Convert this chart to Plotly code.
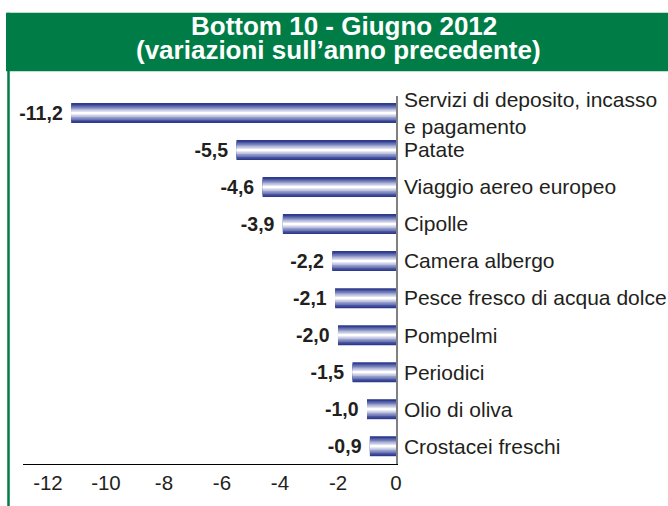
import plotly.graph_objects as go

categories = [
    "Servizi di deposito, incasso<br>e pagamento",
    "Patate",
    "Viaggio aereo europeo",
    "Cipolle",
    "Camera albergo",
    "Pesce fresco di acqua dolce",
    "Pompelmi",
    "Periodici",
    "Olio di oliva",
    "Crostacei freschi",
]
values = [-11.2, -5.5, -4.6, -3.9, -2.2, -2.1, -2.0, -1.5, -1.0, -0.9]
tick_vals = [-12, -10, -8, -6, -4, -2, 0]
tick_text = ["-12", "-10", "-8", "-6", "-4", "-2", "0"]

labels = [f"{v:.1f}".replace(".", ",") + "\u00a0" for v in values]

FONT = "Liberation Sans, Arial, sans-serif"
INK = "#231F20"
GREEN = "#007D46"

# fake the horizontal gradient with stacked bars, dark at the edges -> white centre
layers = [
    (0.54, "#2E3A8C"),
    (0.45, "#4A56A0"),
    (0.37, "#6E78B6"),
    (0.29, "#959DCB"),
    (0.21, "#BCC1DF"),
    (0.13, "#DFE1EF"),
    (0.06, "#FFFFFF"),
]

fig = go.Figure()
for i, (w, c) in enumerate(layers):
    fig.add_trace(go.Bar(
        x=values,
        y=categories,
        orientation="h",
        width=w,
        marker=dict(color=c, line=dict(width=0)),
        text=labels if i == 0 else None,
        textposition="outside" if i == 0 else "none",
        constraintext="none",
        textfont=dict(family=FONT, size=19.5, color=INK, weight="bold"),
        cliponaxis=False,
        hoverinfo="x+y" if i == 0 else "skip",
        showlegend=False,
    ))

fig.update_layout(
    width=668,
    height=506,
    barmode="overlay",
    paper_bgcolor="white",
    plot_bgcolor="white",
    margin=dict(l=23, r=272, t=96, b=39),
    font=dict(family=FONT, color=INK),
    xaxis=dict(
        range=[-12.86, 0],
        tickvals=tick_vals,
        ticktext=tick_text,
        tickfont=dict(family=FONT, size=20.5, color=INK),
        showgrid=False,
        zeroline=False,
        showline=True,
        linecolor="black",
        linewidth=1,
        ticks="",
        fixedrange=True,
    ),
    yaxis=dict(
        type="category",
        range=[9.48, -0.46],
        side="right",
        tickfont=dict(family=FONT, size=21, color=INK),
        showgrid=False,
        zeroline=False,
        showline=True,
        linecolor="#808080",
        linewidth=1.5,
        ticks="",
        ticklabelstandoff=2,
        automargin=False,
        fixedrange=True,
    ),
    shapes=[
        # green header band
        dict(type="rect", xref="paper", yref="paper",
             x0=(6 - 23) / 373, x1=(668 - 23) / 373,
             y0=(467 - 71) / 371, y1=(467 - 12) / 371,
             fillcolor=GREEN, line=dict(width=0), layer="below"),
        # green frame on the left
        dict(type="line", xref="paper", yref="paper",
             x0=(8.5 - 23) / 373, x1=(8.5 - 23) / 373,
             y0=(467 - 12) / 371, y1=(467 - 510) / 371,
             line=dict(color=GREEN, width=2.5)),
    ],
    annotations=[
        dict(text="<b>Bottom 10 - Giugno 2012</b>", xref="paper", yref="paper",
             x=(344 - 23) / 373, y=(467 - 25) / 371, xanchor="center", yanchor="middle",
             showarrow=False, font=dict(family=FONT, size=26, color="white")),
        dict(text="<b>(variazioni sull\u2019anno precedente)</b>", xref="paper", yref="paper",
             x=(338 - 23) / 373, y=(467 - 50) / 371, xanchor="center", yanchor="middle",
             showarrow=False, font=dict(family=FONT, size=26, color="white")),
    ],
    separators=",.",
)

fig.write_html(
    "out.html",
    config={"displayModeBar": False},
    post_script="document.body.style.margin='0';document.body.style.overflow='hidden';",
)
